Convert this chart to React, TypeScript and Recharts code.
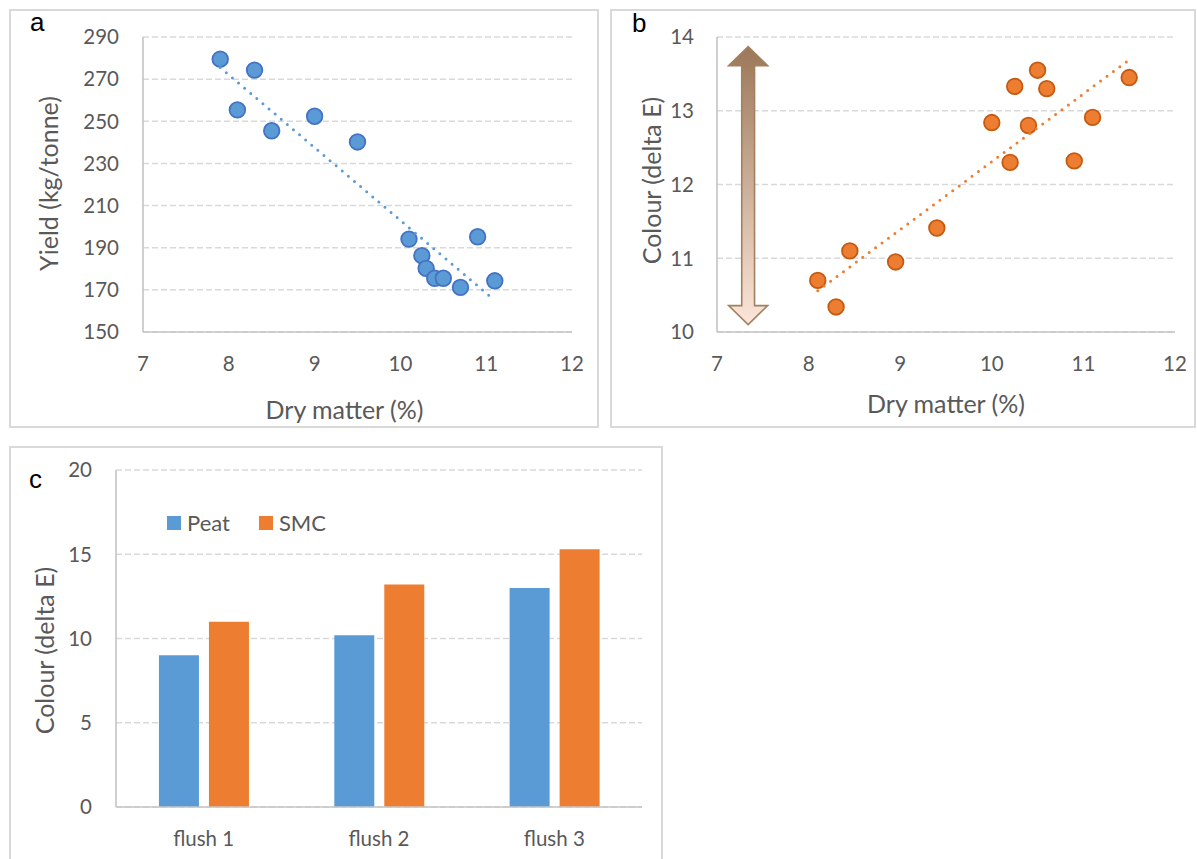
import {
  ScatterChart,
  Scatter,
  BarChart,
  Bar,
  XAxis,
  YAxis,
  CartesianGrid,
  ReferenceLine,
  Legend,
} from "recharts";

// (a) yield against dry matter
const yieldDryMatter = [7.9, 8.3, 8.1, 8.5, 9.0, 9.5, 10.1, 10.25, 10.3, 10.4, 10.5, 10.7, 10.9, 11.1];
const yieldValues = [279.5, 274.3, 255.4, 245.5, 252.4, 240.2, 194.1, 186.2, 180.2, 175.5, 175.5, 171.2, 195.2, 174.3];
const yieldTrendX = [7.9, 11.1];
const yieldTrendY = [275.5, 165];
const yieldTicks = [150, 170, 190, 210, 230, 250, 270, 290];

// (b) colour against dry matter
const colourDryMatter = [8.1, 8.3, 8.45, 8.95, 9.4, 10.0, 10.2, 10.25, 10.4, 10.5, 10.6, 10.9, 11.1, 11.5];
const colourValues = [10.7, 10.34, 11.1, 10.95, 11.41, 12.84, 12.3, 13.33, 12.8, 13.55, 13.3, 12.32, 12.91, 13.45];
const colourTrendX = [8.1, 11.5];
const colourTrendY = [10.56, 13.69];
const colourTicks = [10, 11, 12, 13, 14];
// span of the shading arrow beside the axis
const arrowX = 7.34;
const arrowY = [13.87, 10.1];

const dryMatterTicks = [7, 8, 9, 10, 11, 12];

// (c) colour by flush
const flushes = ["flush 1", "flush 2", "flush 3"];
const peat = [9.0, 10.2, 13.0];
const smc = [11.0, 13.2, 15.3];
const barTicks = [0, 5, 10, 15, 20];

const zip = (xs: number[], ys: number[]) => xs.map((x, i) => ({ x, y: ys[i] }));

const yieldData = zip(yieldDryMatter, yieldValues);
const yieldTrend = zip(yieldTrendX, yieldTrendY);
const colourData = zip(colourDryMatter, colourValues);
const colourTrend = zip(colourTrendX, colourTrendY);
const flushData = flushes.map((flush, i) => ({ flush, Peat: peat[i], SMC: smc[i] }));

const BLUE = "#5b9bd5";
const ORANGE = "#ed7d31";
const TEXT = "#595959";
const FONT = "Lato, 'Open Sans', sans-serif";

const tickStyle = { fill: TEXT, fontSize: 20.5, fontFamily: FONT };
const titleStyle = { fill: TEXT, fontSize: 25, fontFamily: FONT };
const axisLine = { stroke: "#c4c4c4", strokeWidth: 1.6 };

const dot = (fill: string, stroke: string) => (p: any) => (
  <circle cx={p.cx} cy={p.cy} r={7.8} fill={fill} stroke={stroke} strokeWidth={1.8} />
);
const noDot = () => <g />;

function trendLine(color: string) {
  return {
    stroke: color,
    strokeWidth: 3,
    strokeDasharray: "0 8",
    strokeLinecap: "round" as const,
  };
}

function DoubleArrow(p: any) {
  const cx = p.x1;
  const top = Math.min(p.y1, p.y2);
  const bottom = Math.max(p.y1, p.y2);
  const head = 19.5;
  const headLen = 19;
  const shaft = 6.4;
  const d = [
    `M ${cx} ${top}`,
    `L ${cx + head} ${top + headLen}`,
    `L ${cx + shaft} ${top + headLen}`,
    `L ${cx + shaft} ${bottom - headLen}`,
    `L ${cx + head} ${bottom - headLen}`,
    `L ${cx} ${bottom}`,
    `L ${cx - head} ${bottom - headLen}`,
    `L ${cx - shaft} ${bottom - headLen}`,
    `L ${cx - shaft} ${top + headLen}`,
    `L ${cx - head} ${top + headLen}`,
    "Z",
  ].join(" ");
  return (
    <g>
      <defs>
        <linearGradient id="arrowFill" x1="0" y1="0" x2="0" y2="1">
          <stop offset="0%" stopColor="#9c7758" />
          <stop offset="100%" stopColor="#fce6da" />
        </linearGradient>
      </defs>
      <path d={d} fill="url(#arrowFill)" stroke="#a3805f" strokeWidth={1.6} strokeLinejoin="miter" />
    </g>
  );
}

function SwatchLegend({ payload }: any) {
  return (
    <div style={{ display: "flex", alignItems: "center", fontFamily: FONT, fontSize: 22, color: TEXT }}>
      {(payload || []).map((item: any, i: number) => (
        <span
          key={item.value}
          style={{ display: "flex", alignItems: "center", marginRight: i === 0 ? 29 : 0 }}
        >
          <span
            style={{ display: "inline-block", width: 14, height: 14, background: item.color, marginRight: 6 }}
          />
          {item.value}
        </span>
      ))}
    </div>
  );
}

const frame = (left: number, top: number, width: number, height: number) => (
  <div
    style={{
      position: "absolute",
      left,
      top,
      width,
      height,
      border: "2px solid #d9d9d9",
      boxSizing: "border-box",
    }}
  />
);

const letter = (text: string, left: number, top: number) => (
  <div
    style={{
      position: "absolute",
      left,
      top,
      fontFamily: "'Liberation Sans', Arial, sans-serif",
      fontSize: 26,
      lineHeight: "26px",
      color: "#000",
    }}
  >
    {text}
  </div>
);

export default function App() {
  return (
    <div
      style={{
        position: "absolute",
        left: 0,
        top: 0,
        width: 1197,
        height: 859,
        overflow: "hidden",
        background: "#fff",
      }}
    >
      {frame(9, 9, 590, 419)}
      {frame(610, 9, 586, 419)}
      {frame(9, 446, 654, 500)}

      <div style={{ position: "absolute", left: 10, top: 10 }}>
        <ScatterChart width={588} height={417} margin={{ top: 27, right: 26, bottom: 35, left: 0 }}>
          <CartesianGrid vertical={false} stroke="#d9d9d9" strokeWidth={1.5} strokeDasharray="6 3" />
          <XAxis
            type="number"
            dataKey="x"
            domain={[7, 12]}
            ticks={dryMatterTicks}
            height={60}
            tickLine={false}
            tickSize={0}
            tickMargin={24}
            axisLine={axisLine}
            tick={tickStyle}
            label={{ value: "Dry matter (%)", position: "center", dx: -13, dy: 48, style: titleStyle }}
          />
          <YAxis
            type="number"
            dataKey="y"
            domain={[150, 290]}
            ticks={yieldTicks}
            width={133}
            tickLine={false}
            tickSize={0}
            tickMargin={24}
            axisLine={axisLine}
            tick={tickStyle}
            label={{ value: "Yield (kg/tonne)", angle: -90, position: "center", dx: -27, dy: -1, style: titleStyle }}
          />
          <Scatter data={yieldData} shape={dot(BLUE, "#4472c4")} isAnimationActive={false} />
          <Scatter data={yieldTrend} shape={noDot} line={trendLine(BLUE)} isAnimationActive={false} />
        </ScatterChart>
      </div>

      <div style={{ position: "absolute", left: 611, top: 10 }}>
        <ScatterChart width={584} height={417} margin={{ top: 27, right: 20, bottom: 35, left: 0 }}>
          <CartesianGrid vertical={false} stroke="#d9d9d9" strokeWidth={1.5} strokeDasharray="6 3" />
          <XAxis
            type="number"
            dataKey="x"
            domain={[7, 12]}
            ticks={dryMatterTicks}
            height={60}
            tickLine={false}
            tickSize={0}
            tickMargin={24}
            axisLine={axisLine}
            tick={tickStyle}
            label={{ value: "Dry matter (%)", position: "center", dx: 0, dy: 42, style: titleStyle }}
          />
          <YAxis
            type="number"
            dataKey="y"
            domain={[10, 14]}
            ticks={colourTicks}
            width={106}
            tickLine={false}
            tickSize={0}
            tickMargin={23}
            axisLine={axisLine}
            tick={tickStyle}
            label={{ value: "Colour (delta E)", angle: -90, position: "center", dx: -12, dy: -4, style: titleStyle }}
          />
          <ReferenceLine
            segment={[
              { x: arrowX, y: arrowY[0] },
              { x: arrowX, y: arrowY[1] },
            ]}
            shape={DoubleArrow}
          />
          <Scatter data={colourData} shape={dot(ORANGE, "#c55a11")} isAnimationActive={false} />
          <Scatter data={colourTrend} shape={noDot} line={trendLine(ORANGE)} isAnimationActive={false} />
        </ScatterChart>
      </div>

      <div style={{ position: "absolute", left: 10, top: 447 }}>
        <BarChart
          width={652}
          height={412}
          data={flushData}
          margin={{ top: 23, right: 20, bottom: 12, left: 0 }}
          barCategoryGap="24.5%"
          barGap={10}
        >
          <CartesianGrid vertical={false} stroke="#d9d9d9" strokeWidth={1.5} strokeDasharray="6 3" />
          <XAxis
            dataKey="flush"
            height={40}
            tickLine={false}
            tickSize={0}
            tickMargin={24}
            axisLine={axisLine}
            tick={tickStyle}
          />
          <YAxis
            type="number"
            domain={[0, 20]}
            ticks={barTicks}
            width={106}
            tickLine={false}
            tickSize={0}
            tickMargin={24}
            axisLine={axisLine}
            tick={tickStyle}
            label={{ value: "Colour (delta E)", angle: -90, position: "center", dx: -18, dy: 12, style: titleStyle }}
          />
          <Legend
            layout="horizontal"
            verticalAlign="middle"
            align="center"
            wrapperStyle={{ left: 157, top: 62, width: "auto" }}
            content={SwatchLegend}
          />
          <Bar dataKey="Peat" fill={BLUE} isAnimationActive={false} />
          <Bar dataKey="SMC" fill={ORANGE} isAnimationActive={false} />
        </BarChart>
      </div>

      {letter("a", 30, 9)}
      {letter("b", 632, 10)}
      {letter("c", 29, 466)}
    </div>
  );
}
